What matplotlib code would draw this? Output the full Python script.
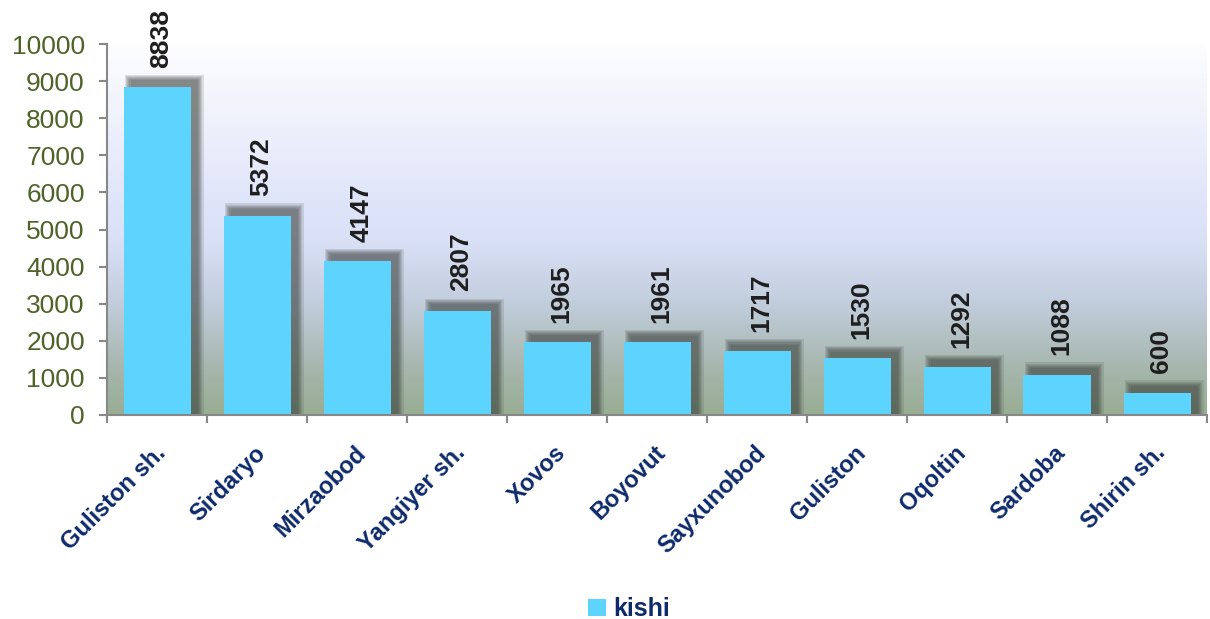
import numpy as np
import matplotlib.pyplot as plt
from matplotlib.patches import Rectangle
from matplotlib.colors import LinearSegmentedColormap

plt.rcParams['font.family'] = ['Liberation Sans', 'DejaVu Sans']

districts = ['Guliston sh.', 'Sirdaryo', 'Mirzaobod', 'Yangiyer sh.', 'Xovos',
             'Boyovut', 'Sayxunobod', 'Guliston', 'Oqoltin', 'Sardoba', 'Shirin sh.']
kishi = [8838, 5372, 4147, 2807, 1965, 1961, 1717, 1530, 1292, 1088, 600]

bar_color = '#5cd4fe'
navy = '#0d2a6a'
olive = '#4f6228'

fig = plt.figure(figsize=(12.1, 6.19), dpi=100)
ax = fig.add_axes([107 / 1210, 1 - 415 / 619, 1100 / 1210, 371 / 619])

n = len(districts)
ax.set_xlim(-0.5, n - 0.5)
ax.set_ylim(0, 10000)

# background gradient (white -> lavender -> grey-green)
bg = LinearSegmentedColormap.from_list('bg', [
    (0.0, '#98ad93'), (0.12, '#a6b6ad'), (0.3, '#c3cede'),
    (0.45, '#d9e0f6'), (0.6, '#e2e7fa'), (0.85, '#f5f6fd'), (1.0, '#ffffff')])
grad = np.linspace(0, 1, 256).reshape(-1, 1)
ax.imshow(grad, cmap=bg, aspect='auto', origin='lower',
          extent=[-0.5, n - 0.5, 0, 10300], zorder=0)

# soft shadow behind each bar, shifted up and right
width = 0.67
dx, dy = 0.07, 180
for i, v in enumerate(kishi):
    x0 = i - width / 2
    for k in range(6):
        ex = 0.012 * k
        ey = 30 * k
        ax.add_patch(Rectangle((x0 + dx - ex, 0), width + 2 * ex, v + dy + ey,
                               facecolor='#3a3f3a', edgecolor='none',
                               alpha=0.14, zorder=1))

ax.bar(range(n), kishi, width=width, color=bar_color, zorder=3, label='kishi')

for i, v in enumerate(kishi):
    ax.annotate(str(v), (i, v), xytext=(3, 14), textcoords='offset points',
                rotation=90, ha='center', va='bottom', fontsize=19,
                fontweight='bold', color='#1e1e1e', zorder=4)

ax.set_yticks(range(0, 10001, 1000))
ax.tick_params(axis='y', labelsize=19, labelcolor=olive, color='#888888',
               length=6, width=1.5, direction='out', pad=10)

ax.set_xticks(np.arange(-0.5, n, 1))
ax.set_xticklabels([])
ax.tick_params(axis='x', color='#888888', length=6, width=1.5, direction='out')
for i, name in enumerate(districts):
    ax.annotate(name, (i - 0.03, 0), xytext=(0, -19), textcoords='offset points',
                rotation=45, rotation_mode='anchor', ha='right', va='top',
                fontsize=17, fontweight='bold', color=navy,
                annotation_clip=False)

for s in ['top', 'right']:
    ax.spines[s].set_visible(False)
for s in ['left', 'bottom']:
    ax.spines[s].set_color('#888888')
    ax.spines[s].set_linewidth(1.5)
    ax.spines[s].set_zorder(5)

leg = fig.legend(loc='lower center', bbox_to_anchor=(0.52, -0.04), frameon=False,
                 prop={'size': 18, 'weight': 'bold'}, handlelength=0.7,
                 handleheight=0.7, handletextpad=0.3)
for t in leg.get_texts():
    t.set_color(navy)

fig.savefig('out.png', dpi=100)
